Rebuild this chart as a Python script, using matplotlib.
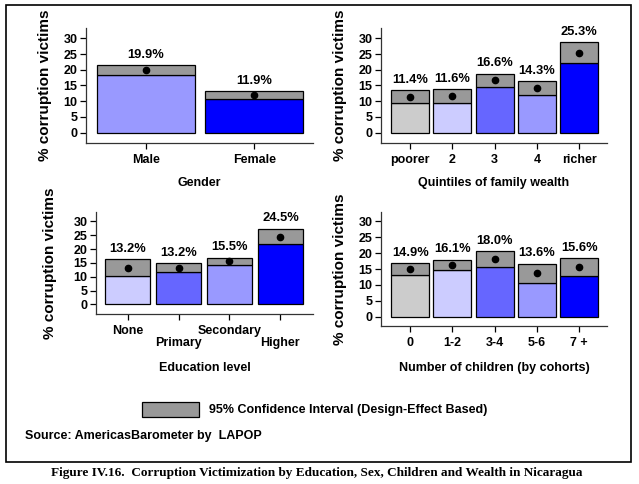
import matplotlib
matplotlib.use('Agg')
import matplotlib.pyplot as plt
from matplotlib.patches import Rectangle

plt.rcParams['font.family'] = ['Liberation Sans', 'DejaVu Sans']
plt.rcParams['font.weight'] = 'bold'

# data
gender_labels = ['Male', 'Female']
gender_mean = [19.9, 11.9]
gender_low = [18.2, 10.7]
gender_high = [21.5, 13.2]
gender_colors = ['#9999ff', '#0000ff']

wealth_labels = ['poorer', '2', '3', '4', 'richer']
wealth_mean = [11.4, 11.6, 16.6, 14.3, 25.3]
wealth_low = [9.3, 9.4, 14.4, 12.1, 22.1]
wealth_high = [13.5, 13.8, 18.7, 16.4, 28.7]
wealth_colors = ['#cccccc', '#ccccff', '#6666ff', '#9999ff', '#0000ff']

edu_labels = ['None', 'Primary', 'Secondary', 'Higher']
edu_mean = [13.2, 13.2, 15.5, 24.5]
edu_low = [10.4, 11.7, 14.3, 21.8]
edu_high = [16.3, 14.8, 16.9, 27.3]
edu_colors = ['#ccccff', '#6666ff', '#9999ff', '#0000ff']

child_labels = ['0', '1-2', '3-4', '5-6', '7 +']
child_mean = [14.9, 16.1, 18.0, 13.6, 15.6]
child_low = [13.2, 14.6, 15.7, 10.7, 12.9]
child_high = [16.8, 17.9, 20.5, 16.7, 18.4]
child_colors = ['#cccccc', '#ccccff', '#6666ff', '#9999ff', '#0000ff']

W, H = 639, 484
fig = plt.figure(figsize=(W / 100, H / 100), dpi=100)


def px_axes(left, top, right, bottom):
    return fig.add_axes([left / W, 1 - bottom / H, (right - left) / W, (bottom - top) / H])


def panel(box, labels, mean, low, high, colors, xlim, ylim, width, xlabel,
          ylab_x, xlab_y, stagger=False):
    ax = px_axes(*box)
    x = list(range(len(labels)))
    ax.bar(x, low, width=width, color=colors, edgecolor='black', linewidth=0.9)
    ax.bar(x, [h - l for h, l in zip(high, low)], bottom=low, width=width,
           color='#999999', edgecolor='black', linewidth=0.9)
    ax.plot(x, mean, 'o', color='black', ms=4.5)
    for xi, m, h in zip(x, mean, high):
        ax.annotate('{:.1f}%'.format(m), (xi, h), xytext=(0, 7.5),
                    textcoords='offset points', ha='center', va='center',
                    fontsize=9.3, fontweight='bold')
    ax.set_xlim(*xlim)
    ax.set_ylim(*ylim)
    ax.set_yticks([0, 5, 10, 15, 20, 25, 30])
    ax.set_xticks(x)
    ax.set_xticklabels(labels)
    ax.tick_params(axis='both', labelsize=9, length=4, width=0.9, direction='out', pad=2)
    ax.tick_params(axis='x', pad=4)
    if stagger:
        for i, t in enumerate(ax.get_xticklabels()):
            if i % 2 == 1:
                t.set_y(-0.12)
    for t in ax.get_xticklabels() + ax.get_yticklabels():
        t.set_fontweight('bold')
    for s in ['top', 'right']:
        ax.spines[s].set_visible(False)
    for s in ['left', 'bottom']:
        ax.spines[s].set_linewidth(0.9)
        ax.spines[s].set_color('#333333')
    fig.text(ylab_x / W, 1 - ((box[1] + box[3]) / 2) / H, '% corruption victims',
             rotation=90, ha='center', va='center', fontsize=11, fontweight='bold')
    fig.text(((box[0] + box[2]) / 2) / W, 1 - xlab_y / H, xlabel, ha='center',
             va='center', fontsize=9, fontweight='bold')
    return ax


ylim = (-3.3, 33.3)
panel((86, 28, 313, 143), gender_labels, gender_mean, gender_low, gender_high,
      gender_colors, (-0.55, 1.54), ylim, 0.9, 'Gender', 45, 183)
panel((381, 28, 607, 143), wealth_labels, wealth_mean, wealth_low, wealth_high,
      wealth_colors, (-0.69, 4.66), ylim, 0.9, 'Quintiles of family wealth', 340, 183)
panel((96, 212, 313, 314), edu_labels, edu_mean, edu_low, edu_high,
      edu_colors, (-0.62, 3.64), (-3.5, 33.4), 0.88, 'Education level', 50, 368,
      stagger=True)
panel((381, 212, 607, 326), child_labels, child_mean, child_low, child_high,
      child_colors, (-0.69, 4.66), (-2.9, 32.9), 0.9, 'Number of children (by cohorts)',
      340, 368)

# outer frame
fig.add_artist(Rectangle((6 / W, 1 - 462 / H), 625 / W, 457 / H, fill=False,
                         edgecolor='black', linewidth=1.2, transform=fig.transFigure))

# legend
fig.add_artist(Rectangle((142 / W, 1 - 417 / H), 57 / W, 15 / H, facecolor='#999999',
                         edgecolor='black', linewidth=0.9, transform=fig.transFigure))
fig.text(209 / W, 1 - 410 / H, '95% Confidence Interval (Design-Effect Based)',
         ha='left', va='center', fontsize=9, fontweight='bold')
fig.text(25 / W, 1 - 436 / H, 'Source: AmericasBarometer by  LAPOP',
         ha='left', va='center', fontsize=9, fontweight='bold')

fig.text(317 / W, 1 - 473 / H,
         'Figure IV.16.  Corruption Victimization by Education, Sex, Children and Wealth in Nicaragua',
         ha='center', va='center', fontsize=9.55, fontweight='bold', family='Liberation Serif')

fig.savefig('out.png', dpi=100)
